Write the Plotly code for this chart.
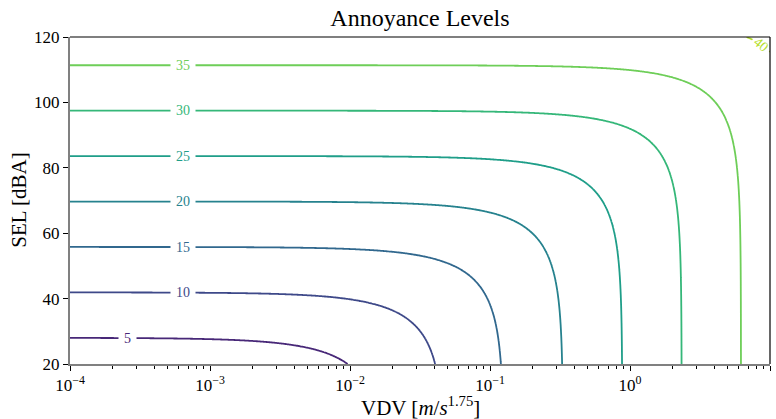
import numpy as np
import plotly.graph_objects as go

# ---- data ----
levels = [5, 10, 15, 20, 25, 30, 35, 40]
# SEL (dBA) at which each contour runs flat for small VDV (levels 5..35)
sel_flat = [28.0, 41.9, 55.8, 69.7, 83.6, 97.4, 111.4]
# VDV at which each contour turns vertical for low SEL (levels 5..35)
vdv_vertical = [0.0178, 0.047, 0.125, 0.333, 0.88, 2.34, 6.2]
level_colors = ["#482878", "#3e4989", "#31688e", "#26828e",
                "#1f9e89", "#35b779", "#6ece58", "#b5de2b"]
x_tickvals = [1e-4, 1e-3, 1e-2, 1e-1, 1, 10]
x_ticktext = ["10<sup>−4</sup>", "10<sup>−3</sup>", "10<sup>−2</sup>",
              "10<sup>−1</sup>", "10<sup>0</sup>", "10<sup>1</sup>"]
y_tickvals = [20, 40, 60, 80, 100, 120]

FONT = "Liberation Serif, Times New Roman, serif"

# ---- surface built from the read asymptotes ----
a1 = np.polyfit(sel_flat, levels[:7], 1)                # level vs SEL
a2 = np.polyfit(np.log10(vdv_vertical), levels[:7], 1)  # level vs log VDV


def lev_sel(s):
    return a1[0] * np.asarray(s) + a1[1]


def lev_vdv(v):
    return a2[0] * np.log10(v) + a2[1]


def combine(s, v):
    return 10 * np.log10(10 ** (lev_sel(s) / 10) + 10 ** (lev_vdv(v) / 10))


def sel_on_level(L, v):
    need = 10 * np.log10(10 ** (L / 10) - 10 ** (lev_vdv(v) / 10))
    return (need - a1[1]) / a1[0]


vdv = np.logspace(-4, 1, 500)
sel = np.linspace(20, 120, 320)
V, S = np.meshgrid(vdv, sel)
Z = np.round(combine(S, V), 3)

lo, hi = levels[0], levels[-1]
cscale = [[(L - lo) / (hi - lo), c] for L, c in zip(levels, level_colors)]

fig = go.Figure()
fig.add_trace(go.Contour(
    x=vdv, y=sel, z=Z,
    contours=dict(start=lo, end=hi, size=5, coloring="lines", showlabels=False),
    colorscale=cscale, zmin=lo, zmax=hi, showscale=False,
    line=dict(width=1.8, smoothing=1), hoverinfo="skip",
))

# ---- contour labels ----
annotations = []
for L, c in zip(levels[:7], level_colors[:7]):
    lx = 10 ** (-3.59 if L == 5 else -3.19)
    ly = sel_on_level(L, lx)
    annotations.append(dict(
        x=np.log10(lx), y=float(ly), xref="x", yref="y", text=str(L),
        showarrow=False, font=dict(family=FONT, size=14, color=c),
        bgcolor="white", borderpad=5,
    ))

# label on the 40 contour near the top-right corner
lx40 = 10 ** 0.936
ly40 = float(sel_on_level(40, lx40))
annotations.append(dict(
    x=np.log10(lx40), y=ly40, xref="x", yref="y", text="40", textangle=40,
    showarrow=False, font=dict(family=FONT, size=14, color=level_colors[7]),
))

# axis titles
annotations.append(dict(
    x=0.5, y=-0.082, xref="paper", yref="paper", yanchor="top",
    text="VDV [<i>m</i>/<i>s</i><sup>1.75</sup>]", showarrow=False,
    font=dict(family=FONT, size=21, color="black"),
))
annotations.append(dict(
    x=-0.074, y=0.5, xref="paper", yref="paper", xanchor="center",
    text="SEL [dBA]", textangle=-90, showarrow=False,
    font=dict(family=FONT, size=21, color="black"),
))


def to_paper(v, s):
    return (np.log10(v) + 4) / 5, (s - 20) / 100


# white mask breaking the 40 contour under its label, then the frame
m0 = to_paper(10 ** 0.875, sel_on_level(40, 10 ** 0.875))
m1 = to_paper(10 ** 0.995, sel_on_level(40, 10 ** 0.995))
shapes = [
    dict(type="line", xref="paper", yref="paper", x0=m0[0], y0=float(m0[1]),
         x1=m1[0], y1=float(m1[1]), line=dict(color="white", width=9), layer="above"),
    dict(type="line", xref="paper", yref="paper", x0=0, y0=1, x1=1, y1=1,
         line=dict(color="black", width=1.2), layer="above"),
    dict(type="line", xref="paper", yref="paper", x0=1, y0=0, x1=1, y1=1,
         line=dict(color="black", width=1.2), layer="above"),
]

minor_vals = [m * 10 ** e for e in range(-4, 1) for m in range(2, 10)]

fig.update_layout(
    width=776, height=419,
    margin=dict(l=70, r=6, t=37, b=55),
    paper_bgcolor="white", plot_bgcolor="white",
    title=dict(text="Annoyance Levels", x=0.5, xref="paper", y=0.958, yanchor="middle",
               font=dict(family=FONT, size=24, color="black")),
    annotations=annotations,
    shapes=shapes,
    showlegend=False,
    xaxis=dict(
        type="log", range=[-4, 1], showgrid=False, zeroline=False,
        showline=True, linecolor="#808080", linewidth=2,
        ticks="outside", ticklen=5, tickwidth=1, tickcolor="black",
        tickvals=x_tickvals, ticktext=x_ticktext,
        tickfont=dict(family=FONT, size=17, color="black"),
        minor=dict(tickvals=minor_vals, ticks="outside", ticklen=3,
                   tickwidth=0.8, tickcolor="black", showgrid=False),
        automargin=False,
    ),
    yaxis=dict(
        range=[20, 120], showgrid=False, zeroline=False,
        showline=True, linecolor="#808080", linewidth=2,
        ticks="outside", ticklen=5, tickwidth=1, tickcolor="black",
        tickvals=y_tickvals,
        tickfont=dict(family=FONT, size=17, color="black"),
        automargin=False,
    ),
)

fig.write_html(
    "out.html",
    config={"displayModeBar": False},
    post_script="document.body.style.margin='0';document.body.style.overflow='hidden';",
)
